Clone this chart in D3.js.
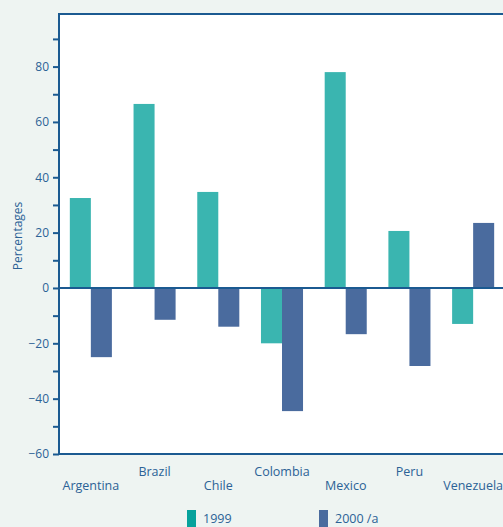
<!DOCTYPE html>
<html><head><meta charset="utf-8">
<script src="https://cdn.jsdelivr.net/npm/d3@7"></script>
<style>
html,body{margin:0;padding:0;background:#eef4f2;}
svg{display:block;}
text{font-family:"Open Sans","Noto Sans",sans-serif;}
</style></head>
<body>
<svg id="chart" width="503" height="527"></svg>
<script>
const categories = ["Argentina","Brazil","Chile","Colombia","Mexico","Peru","Venezuela"];
const values1999 = [32.5, 66.5, 34.7, -20, 78, 20.6, -13];
const values2000 = [-25, -11.5, -14, -44.5, -16.7, -28.2, 23.5];
const seriesNames = ["1999", "2000 /a"];
const yTicks = [-60,-40,-20,0,20,40,60,80];
const yMinorTicks = [-50,-30,-10,10,30,50,70,90];

(function(){
const svg = d3.select("#chart");
const W = 503, H = 527;
const mLeft = 59, mRight = 505, mTop = 14, mBottom = 454;
const axisColor = "#1b5a91", textColor = "#2b6296";
const colors = ["#3ab5b0", "#4a6b9e"];
const legendColors = ["#06a29c", "#4a6b9e"];

svg.append("rect").attr("x",0).attr("y",0).attr("width",W).attr("height",H).attr("fill","#eef4f2");
svg.append("rect").attr("x",mLeft).attr("y",mTop).attr("width",W-mLeft).attr("height",mBottom-mTop).attr("fill","#ffffff");

const x = d3.scaleBand().domain(categories).range([mLeft,mRight]).paddingInner(0.34).paddingOuter(0.17);
const x1 = d3.scaleBand().domain(seriesNames).range([0,x.bandwidth()]);
const y = d3.scaleLinear().domain([-60,99]).range([mBottom,mTop]);

const data = categories.map((c,i)=>({cat:c, vals:[values1999[i], values2000[i]]}));
const g = svg.append("g");
data.forEach(d=>{
  d.vals.forEach((v,j)=>{
    g.append("rect")
      .attr("x", x(d.cat)+x1(seriesNames[j]))
      .attr("width", x1.bandwidth())
      .attr("y", y(Math.max(0,v)))
      .attr("height", Math.abs(y(v)-y(0)))
      .attr("fill", colors[j]);
  });
});

svg.append("line").attr("x1",mLeft).attr("x2",W).attr("y1",y(0)).attr("y2",y(0))
  .attr("stroke",axisColor).attr("stroke-width",2);

svg.append("line").attr("x1",mLeft).attr("x2",W).attr("y1",mTop).attr("y2",mTop).attr("stroke",axisColor).attr("stroke-width",2);
svg.append("line").attr("x1",mLeft).attr("x2",W).attr("y1",mBottom).attr("y2",mBottom).attr("stroke",axisColor).attr("stroke-width",2);

const yAxis = d3.axisLeft(y).tickValues(yTicks).tickSize(6).tickPadding(4).tickFormat(d3.format("d"));
const ya = svg.append("g").attr("transform",`translate(${mLeft},0)`).call(yAxis);
ya.select(".domain").attr("stroke",axisColor).attr("stroke-width",2).attr("d",`M0,${mTop-1}V${mBottom+1}`);
ya.selectAll(".tick line").attr("stroke",axisColor).attr("stroke-width",2);
ya.selectAll(".tick text").attr("fill",textColor).attr("font-size",12).attr("font-family","'Open Sans','Noto Sans',sans-serif");
const yMinor = d3.axisLeft(y).tickValues(yMinorTicks).tickSize(6).tickFormat("");
const ym = svg.append("g").attr("transform",`translate(${mLeft},0)`).call(yMinor);
ym.select(".domain").remove();
ym.selectAll(".tick line").attr("stroke",axisColor).attr("stroke-width",2);

svg.append("text").attr("transform",`translate(22,${(mTop+mBottom)/2+2}) rotate(-90)`)
  .attr("text-anchor","middle").attr("fill",textColor).attr("font-size",12).text("Percentages");

categories.forEach((c,i)=>{
  svg.append("text").attr("x", x(c)+x.bandwidth()/2)
    .attr("y", i%2===0 ? 490 : 476)
    .attr("text-anchor","middle").attr("fill",textColor).attr("font-size",12.5).text(c);
});

const legX = [187, 319];
seriesNames.forEach((s,j)=>{
  svg.append("rect").attr("x",legX[j]).attr("y",510).attr("width",9).attr("height",20).attr("fill",legendColors[j]);
  svg.append("text").attr("x",legX[j]+16).attr("y",523).attr("fill",textColor).attr("font-size",12.5).text(s);
});
})();
</script>
</body></html>
